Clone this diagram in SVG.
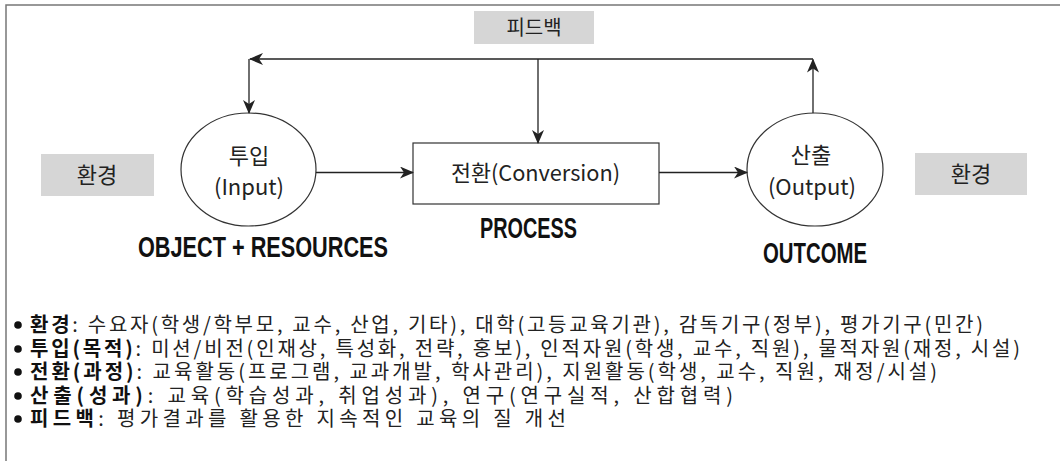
<svg xmlns="http://www.w3.org/2000/svg" width="1060" height="461" viewBox="0 0 1060 461">
<style>
.k{font-family:"Noto Sans CJK KR","Noto Sans",sans-serif;fill:#222}
.c{text-anchor:middle}
.big{font-family:"Liberation Sans Narrow","Liberation Sans",Arial,sans-serif;font-weight:bold;fill:#111;font-size:29px}
.ln{stroke:#222;stroke-width:1.3;fill:none}
.shape{stroke:#333;stroke-width:1.2;fill:#fff}
.tag{fill:#d6d6d6}
.b{font-weight:bold;fill:#111}
.li{font-size:20px}
</style>
<defs>
<marker id="ah" viewBox="0 0 14 12" refX="13" refY="6" markerWidth="14" markerHeight="12" markerUnits="userSpaceOnUse" orient="auto">
<path d="M0,0 L14,6 L0,12 L4,6 Z" fill="#222"/>
</marker>
</defs>
<rect x="6" y="5" width="1120" height="520" fill="#fff" stroke="#777" stroke-width="1.5"/>

<g id="feedback-label">
<rect class="tag" x="474" y="11" width="120" height="33"/>
<text class="k c" x="534" y="35" font-size="20">피드백</text>
</g>
<g id="env-left">
<rect class="tag" x="41" y="154" width="113" height="42"/>
<text class="k c" x="97" y="183" font-size="22">환경</text>
</g>
<g id="env-right">
<rect class="tag" x="915" y="153" width="112" height="42"/>
<text class="k c" x="971" y="182" font-size="22">환경</text>
</g>
<g id="input">
<ellipse class="shape" cx="248.5" cy="169.5" rx="67.5" ry="56.5"/>
<text class="k c" x="249" y="164" font-size="22">투입</text>
<text class="k c" x="249" y="195" font-size="22">(Input)</text>
<text class="big" x="138" y="257" textLength="250" lengthAdjust="spacingAndGlyphs">OBJECT + RESOURCES</text>
</g>
<g id="process">
<rect class="shape" x="413" y="143" width="246" height="61"/>
<text class="k" x="451" y="181" font-size="22" textLength="169" lengthAdjust="spacingAndGlyphs">전환(Conversion)</text>
<text class="big" x="480" y="238" textLength="97" lengthAdjust="spacingAndGlyphs">PROCESS</text>
</g>
<g id="output">
<ellipse class="shape" cx="815" cy="169.5" rx="68" ry="56.5"/>
<text class="k c" x="811" y="163" font-size="22">산출</text>
<text class="k c" x="812" y="195" font-size="22">(Output)</text>
<text class="big" x="763" y="263" textLength="104" lengthAdjust="spacingAndGlyphs">OUTCOME</text>
</g>

<g id="connectors">
<path class="ln" d="M813,59 H250" marker-end="url(#ah)"/>
<path class="ln" d="M249,59 V113" marker-end="url(#ah)"/>
<path class="ln" d="M538,59 V143" marker-end="url(#ah)"/>
<path class="ln" d="M813,113 V59.5" marker-end="url(#ah)"/>
<path class="ln" d="M316,172.5 H413" marker-end="url(#ah)"/>
<path class="ln" d="M659,172.5 H747" marker-end="url(#ah)"/>
</g>

<g id="legend">
<circle cx="18" cy="325" r="3.8" fill="#111"/>
<circle cx="18" cy="349" r="3.8" fill="#111"/>
<circle cx="18" cy="372" r="3.8" fill="#111"/>
<circle cx="18" cy="396" r="3.8" fill="#111"/>
<circle cx="18" cy="419" r="3.8" fill="#111"/>
<text class="k li" x="30" y="332" textLength="953"><tspan class="b">환경</tspan>: 수요자(학생/학부모, 교수, 산업, 기타), 대학(고등교육기관), 감독기구(정부), 평가기구(민간)</text>
<text class="k li" x="30" y="356" textLength="990"><tspan class="b">투입(목적)</tspan>: 미션/비전(인재상, 특성화, 전략, 홍보), 인적자원(학생, 교수, 직원), 물적자원(재정, 시설)</text>
<text class="k li" x="30" y="379" textLength="907"><tspan class="b">전환(과정)</tspan>: 교육활동(프로그램, 교과개발, 학사관리), 지원활동(학생, 교수, 직원, 재정/시설)</text>
<text class="k li" x="30" y="403" textLength="703"><tspan class="b">산출(성과)</tspan>: 교육(학습성과, 취업성과), 연구(연구실적, 산합협력)</text>
<text class="k li" x="30" y="426" textLength="536"><tspan class="b">피드백</tspan>: 평가결과를 활용한 지속적인 교육의 질 개선</text>
</g>
</svg>
